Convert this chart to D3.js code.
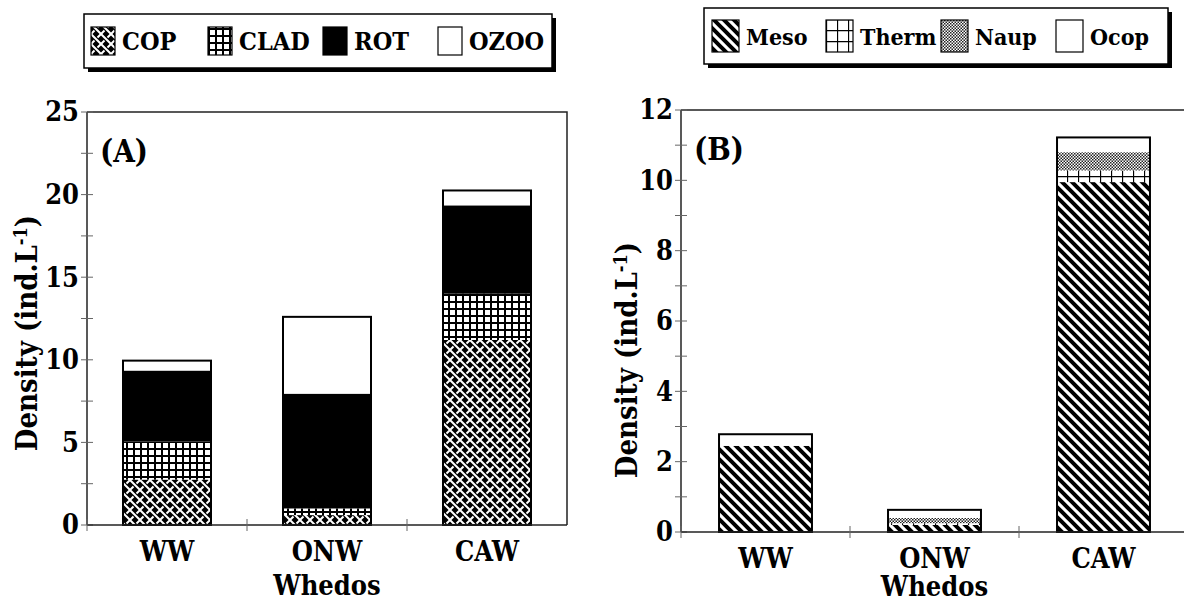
<!DOCTYPE html>
<html lang="en">
<head>
<meta charset="utf-8">
<title>Zooplankton density - Whedos</title>
<script src="https://cdn.jsdelivr.net/npm/d3@7"></script>
<style>
  body { margin: 0; background: #fff; }
  svg text { font-weight: bold; fill: #000; font-stretch: condensed; }
</style>
</head>
<body>
<svg id="chart" width="1184" height="601"></svg>
<script>
// categories (stations)
var sites = ["WW", "ONW", "CAW"];

// panel A : groups of zooplankton
var groupsA = ["COP", "CLAD", "ROT", "OZOO"];
var cop  = [2.75, 0.6, 11.2];
var clad = [2.3, 0.4, 2.8];
var rot  = [4.3, 6.95, 5.35];
var ozoo = [0.6, 4.65, 0.9];
var ticksA = [0, 5, 10, 15, 20, 25];

// panel B : copepod stages / taxa
var groupsB = ["Meso", "Therm", "Naup", "Ocop"];
var meso  = [2.45, 0.2, 9.95];
var therm = [0, 0.05, 0.33];
var naup  = [0, 0.15, 0.52];
var ocop  = [0.33, 0.23, 0.42];
var ticksB = [0, 2, 4, 6, 8, 10, 12];

var serif = "'DejaVu Serif Condensed', 'DejaVu Serif', serif";
var svg = d3.select("#chart");
var defs = svg.append("defs");

// --- fill patterns ---
function pat(id, w, h) {
  return defs.append("pattern").attr("id", id)
    .attr("patternUnits", "userSpaceOnUse")
    .attr("width", w).attr("height", h);
}
// woven cross hatch (COP)
var p1 = pat("pCop", 10, 10);
p1.append("rect").attr("width", 10).attr("height", 10).attr("fill", "#000");
p1.append("path").attr("d", "M0,0 L10,10").attr("stroke", "#fff").attr("stroke-width", 2);
p1.append("path").attr("d", "M10,0 L6.5,3.5 M3.5,6.5 L0,10").attr("stroke", "#fff").attr("stroke-width", 2);
// fine grid (CLAD)
var p2 = pat("pClad", 7, 7);
p2.append("rect").attr("width", 7).attr("height", 7).attr("fill", "#000");
p2.append("rect").attr("x", 2).attr("y", 2).attr("width", 5).attr("height", 5).attr("fill", "#fff");
// diagonal stripes (Meso)
var p3 = pat("pMeso", 10, 10);
p3.append("rect").attr("width", 10).attr("height", 10).attr("fill", "#fff");
p3.append("path").attr("d", "M0,0 L10,10 M-5,5 L5,15 M5,-5 L15,5").attr("stroke", "#000").attr("stroke-width", 4);
// wide grid (Therm)
var p4 = pat("pTherm", 11, 11);
p4.append("rect").attr("width", 11).attr("height", 11).attr("fill", "#fff");
p4.append("path").attr("d", "M0.5,0 V11 M0,0.5 H11").attr("stroke", "#000").attr("stroke-width", 1.3);
// dense checker (Naup)
var p5 = pat("pNaup", 3, 3);
p5.append("rect").attr("width", 3).attr("height", 3).attr("fill", "#fff");
p5.append("rect").attr("width", 1.5).attr("height", 1.5).attr("fill", "#222");
p5.append("rect").attr("x", 1.5).attr("y", 1.5).attr("width", 1.5).attr("height", 1.5).attr("fill", "#222");

var fillsA = {COP: "url(#pCop)", CLAD: "url(#pClad)", ROT: "#000", OZOO: "#fff"};
var fillsB = {Meso: "url(#pMeso)", Therm: "url(#pTherm)", Naup: "url(#pNaup)", Ocop: "#fff"};

function drawPanel(o) {
  var x = d3.scaleBand().domain(sites).range([o.left, o.right]).paddingInner(o.pad).paddingOuter(o.pad / 2);
  var y = d3.scaleLinear().domain([0, o.max]).range([o.bottom, o.top]);

  var rows = sites.map(function (s, i) {
    var r = {site: s};
    o.keys.forEach(function (k, j) { r[k] = o.series[j][i]; });
    return r;
  });
  var stack = d3.stack().keys(o.keys)(rows);

  var g = svg.append("g");
  g.selectAll("g.layer").data(stack).enter().append("g")
    .attr("fill", function (d) { return o.fills[d.key]; })
    .selectAll("rect").data(function (d) { return d; }).enter().append("rect")
    .attr("x", function (d) { return x(d.data.site); })
    .attr("width", x.bandwidth())
    .attr("y", function (d) { return y(d[1]); })
    .attr("height", function (d) { return y(d[0]) - y(d[1]); });

  // bar outlines
  var total = function (d) { return d3.sum(o.keys, function (k) { return d[k]; }); };
  g.selectAll("rect.outline").data(rows).enter().append("rect")
    .attr("class", "outline")
    .attr("x", function (d) { return x(d.site); })
    .attr("width", x.bandwidth())
    .attr("y", function (d) { return y(total(d)); })
    .attr("height", function (d) { return o.bottom - y(total(d)); })
    .attr("fill", "none").attr("stroke", "#000").attr("stroke-width", 2);

  // frame: top and right
  svg.append("path")
    .attr("d", "M" + o.left + "," + o.top + "H" + o.right + "V" + o.bottom)
    .attr("fill", "none").attr("stroke", "#222").attr("stroke-width", 1.5);

  // y axis with crossing ticks
  var yMinor = d3.range(0, o.max + 0.001, o.step / 2);
  svg.append("line").attr("x1", o.left).attr("x2", o.left).attr("y1", o.top).attr("y2", o.bottom)
    .attr("stroke", "#222").attr("stroke-width", 1.5);
  svg.selectAll(null).data(yMinor).enter().append("line")
    .attr("x1", o.left - 6).attr("x2", o.left + 6)
    .attr("y1", function (d) { return y(d); }).attr("y2", function (d) { return y(d); })
    .attr("stroke", "#666").attr("stroke-width", 1);
  svg.selectAll(null).data(o.ticks).enter().append("text")
    .attr("x", o.left - 8).attr("y", function (d) { return y(d); })
    .attr("dy", "0.35em").attr("text-anchor", "end")
    .style("font-family", serif).style("font-size", "27px")
    .text(function (d) { return d; });

  // x axis line + ticks at band boundaries
  svg.append("line").attr("x1", o.left).attr("x2", o.right).attr("y1", o.bottom).attr("y2", o.bottom)
    .attr("stroke", "#222").attr("stroke-width", 1.5);
  var step = x.step();
  var bounds = [o.left].concat(sites.slice(1).map(function (s) { return x(s) - step * o.pad / 2; }));
  svg.selectAll(null).data(bounds).enter().append("line")
    .attr("x1", function (d) { return d; }).attr("x2", function (d) { return d; })
    .attr("y1", o.bottom - 6).attr("y2", o.bottom + 6)
    .attr("stroke", "#666").attr("stroke-width", 1);
  svg.selectAll(null).data(sites).enter().append("text")
    .attr("x", function (d) { return x(d) + x.bandwidth() / 2; })
    .attr("y", o.bottom + 36).attr("text-anchor", "middle")
    .style("font-family", serif).style("font-size", "27px")
    .text(function (d) { return d; });

  svg.append("text").attr("x", (o.left + o.left + 3 * step) / 2).attr("y", o.bottom + o.whedosDy)
    .attr("text-anchor", "middle").style("font-family", serif).style("font-size", "27px").text("Whedos");

  // y title
  var t = svg.append("text")
    .attr("transform", "translate(" + o.titleX + "," + o.titleY + ") rotate(-90)")
    .attr("text-anchor", "middle").style("font-family", serif).style("font-size", "29px");
  t.append("tspan").text("Density (ind.L");
  t.append("tspan").attr("baseline-shift", "super").style("font-size", "18px").text("-1");
  t.append("tspan").text(")");

  // panel letter
  svg.append("text").attr("x", o.left + 13).attr("y", o.top + 50)
    .style("font-family", serif).style("font-size", "31px").text(o.letter);
}

function drawLegend(o) {
  var lg = svg.append("g");
  lg.append("rect").attr("x", o.x + 4).attr("y", o.y + 4).attr("width", o.w).attr("height", o.h).attr("fill", "#000");
  lg.append("rect").attr("x", o.x).attr("y", o.y).attr("width", o.w).attr("height", o.h)
    .attr("fill", "#fff").attr("stroke", "#000").attr("stroke-width", 1.5);
  var it = lg.selectAll("g.item").data(o.keys).enter().append("g")
    .attr("transform", function (d, i) { return "translate(" + o.xs[i] + "," + o.y + ")"; });
  it.append("rect").attr("x", 0).attr("y", o.sy).attr("width", o.sw).attr("height", o.sh)
    .attr("fill", function (d) { return o.fills[d]; })
    .attr("stroke", "#000").attr("stroke-width", 1.2);
  it.append("text").attr("x", o.sw + 7).attr("y", o.ty)
    .style("font-family", serif).style("font-size", o.fs + "px").text(function (d) { return d; });
}

drawPanel({left: 87, right: 567, top: 112, bottom: 525, max: 25, step: 5, pad: 0.45,
  keys: groupsA, series: [cop, clad, rot, ozoo], fills: fillsA, ticks: ticksA,
  titleX: 37, titleY: 333, letter: "(A)", whedosDy: 70});
drawPanel({left: 681, right: 1188, top: 110, bottom: 532, max: 12, step: 2, pad: 0.45,
  keys: groupsB, series: [meso, therm, naup, ocop], fills: fillsB, ticks: ticksB,
  titleX: 637, titleY: 360, letter: "(B)", whedosDy: 64});

drawLegend({x: 84, y: 14, w: 468, h: 54, keys: groupsA, fills: fillsA, fs: 25,
  xs: [91, 208, 323, 438], sw: 24, sh: 28, sy: 13, ty: 36});
drawLegend({x: 704, y: 8, w: 464, h: 56, keys: groupsB, fills: fillsB, fs: 23,
  xs: [712, 826, 941, 1056], sw: 27, sh: 32, sy: 12, ty: 37});
</script>
</body>
</html>
